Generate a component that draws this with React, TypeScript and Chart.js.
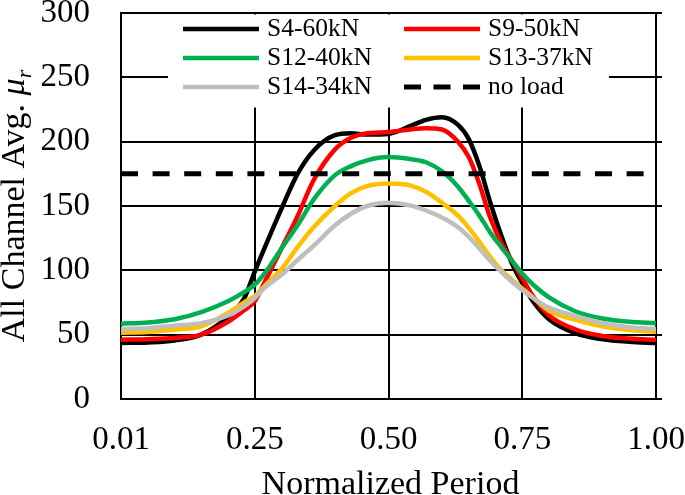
import React, { useEffect, useRef } from 'react';
import { Chart, registerables } from 'chart.js';

Chart.register(...registerables);

// Normalized period position along the axis (0 = first period 0.01, 1 = 1.00)
const periodPos = [0, 0.05, 0.10, 0.15, 0.20, 0.23, 0.25, 0.27, 0.30, 0.33, 0.36, 0.40, 0.43, 0.46, 0.50, 0.54, 0.57, 0.60, 0.63, 0.65, 0.67, 0.69, 0.71, 0.73, 0.75, 0.77, 0.80, 0.85, 0.90, 0.95, 1.00];

const s4_60kN = [43.5, 44, 45.5, 50, 64, 78, 99, 119, 148, 175, 193, 205, 206.5, 205.5, 206, 212, 217, 219, 213, 202, 181, 153, 128, 106, 90, 76, 62, 51, 46.5, 44.5, 43.5];
const s9_50kN = [46, 46.5, 47.5, 50, 60, 69, 76, 92, 117, 142, 170, 194, 203, 206.5, 207.5, 209.5, 210.5, 209.5, 200, 188, 167, 141, 122, 108, 94, 80, 65, 54, 49, 47, 46];
const s12_40kN = [58.5, 59.5, 62, 67.6, 76, 83, 89, 98.5, 117, 135, 155, 174, 181, 185.5, 188, 186.5, 184, 177, 165, 154, 142.5, 129.5, 118.5, 108, 97.5, 89, 79, 68, 62.5, 60, 59];
const s13_37kN = [51.5, 52, 54, 56.5, 67, 75, 80, 88.5, 101, 118, 133.5, 150, 160, 165.5, 167.5, 166, 161, 152.5, 142.5, 133, 122, 110.5, 100.5, 93, 86, 79, 68.5, 61.5, 56.5, 53.7, 52.3];
const s14_34kN = [54.4, 55, 57, 59, 65, 72, 78.5, 87, 96.5, 108, 119, 135, 144, 150, 152.5, 150.5, 146.5, 141, 133.5, 126, 117, 107.5, 99, 91.5, 84.5, 78.5, 71, 64.5, 59, 55.8, 54.4];
const noLoadLevel = 175;

const seriesNames = ['S4-60kN', 'S9-50kN', 'S12-40kN', 'S13-37kN', 'S14-34kN', 'no load'];
const seriesColors = ['#000000', '#ff0000', '#00b050', '#ffc000', '#bfbfbf', '#000000'];

const xTickPos = [0, 0.25, 0.5, 0.75, 1];
const xTickLabels = ['0.01', '0.25', '0.50', '0.75', '1.00'];
const yTicks = [0, 50, 100, 150, 200, 250, 300];

const FONT = '"Liberation Serif", "Times New Roman", serif';

const overlayPlugin = {
  id: 'overlay',
  afterDraw(chart: any) {
    const ctx: CanvasRenderingContext2D = chart.ctx;
    const { left, right, top, bottom } = chart.chartArea;
    const ys = chart.scales.y;
    ctx.save();

    // small stubs right of the plot
    ctx.strokeStyle = '#000';
    ctx.lineWidth = 2;
    yTicks.forEach((v) => {
      const py = Math.round(ys.getPixelForValue(v));
      ctx.beginPath();
      ctx.moveTo(right, py);
      ctx.lineTo(right + 6, py);
      ctx.stroke();
    });

    // legend box
    ctx.fillStyle = '#ffffff';
    ctx.fillRect(168, top + 1.5, 441, 93);
    const cols = [183, 404];
    const rowY = [29, 58, 87];
    ctx.font = `25.5px ${FONT}`;
    ctx.textBaseline = 'alphabetic';
    ctx.textAlign = 'left';
    seriesNames.forEach((name, i) => {
      const cx = cols[i % 2];
      const ry = rowY[Math.floor(i / 2)];
      ctx.strokeStyle = seriesColors[i];
      ctx.lineWidth = i === 5 ? 5 : 4.5;
      ctx.setLineDash(i === 5 ? [17, 12.5] : []);
      ctx.beginPath();
      ctx.moveTo(cx, ry);
      ctx.lineTo(cx + 76, ry);
      ctx.stroke();
      ctx.setLineDash([]);
      ctx.fillStyle = '#000';
      ctx.fillText(name, cx + 84, ry + 7);
    });

    // x title
    ctx.font = `34px ${FONT}`;
    ctx.textAlign = 'center';
    ctx.fillStyle = '#000';
    ctx.fillText('Normalized Period', (left + right) / 2 + 2, 494);

    // y title (rotated, with italic mu and subscript r)
    const part1 = 'All Channel Avg. ';
    const part2 = 'μ';
    const part3 = 'r';
    ctx.textAlign = 'left';
    ctx.font = `34px ${FONT}`;
    const w1 = ctx.measureText(part1).width;
    ctx.font = `italic 34px ${FONT}`;
    const w2 = ctx.measureText(part2).width;
    ctx.font = `italic 22px ${FONT}`;
    const w3 = ctx.measureText(part3).width;
    const total = w1 + w2 + w3;
    ctx.translate(24, (top + bottom) / 2);
    ctx.rotate(-Math.PI / 2);
    let xx = -total / 2;
    ctx.font = `34px ${FONT}`;
    ctx.fillText(part1, xx, 0);
    xx += w1;
    ctx.font = `italic 34px ${FONT}`;
    ctx.fillText(part2, xx, 0);
    xx += w2;
    ctx.font = `italic 22px ${FONT}`;
    ctx.fillText(part3, xx, 7);

    ctx.restore();
  },
};

export default function App() {
  const ref = useRef<HTMLCanvasElement | null>(null);

  useEffect(() => {
    document.body.style.margin = '0';
    const canvas = ref.current;
    if (!canvas) return;
    const seriesData = [s4_60kN, s9_50kN, s12_40kN, s13_37kN, s14_34kN];
    const datasets: any[] = seriesData.map((vals, i) => ({
      label: seriesNames[i],
      data: periodPos.map((x, j) => ({ x, y: vals[j] })),
      borderColor: seriesColors[i],
      borderWidth: 4.5,
      pointRadius: 0,
      fill: false,
      cubicInterpolationMode: 'monotone',
      order: 5 - i,
    }));
    datasets.push({
      label: seriesNames[5],
      data: [{ x: 0, y: noLoadLevel }, { x: 1, y: noLoadLevel }],
      borderColor: seriesColors[5],
      borderWidth: 5,
      borderDash: [17, 14.6],
      pointRadius: 0,
      fill: false,
      order: -1,
    });

    const chart = new Chart(canvas, {
      type: 'line',
      data: { datasets },
      options: {
        responsive: false,
        animation: false,
        devicePixelRatio: 1,
        layout: { padding: { top: 13, right: 29, left: 0, bottom: 0 } },
        plugins: { legend: { display: false }, tooltip: { enabled: false } },
        scales: {
          x: {
            type: 'linear',
            min: 0,
            max: 1,
            afterBuildTicks: (s: any) => {
              s.ticks = xTickPos.map((v) => ({ value: v }));
            },
            ticks: {
              callback: (_v: any, i: number) => xTickLabels[i],
              font: { family: FONT, size: 33 },
              color: '#000',
              padding: 22,
              maxRotation: 0,
              autoSkip: false,
            },
            grid: { color: '#000', lineWidth: 2, drawTicks: false },
            border: { color: '#000', width: 2 },
            afterFit: (s: any) => {
              s.height = 96;
              s.paddingLeft = 0;
              s.paddingRight = 0;
            },
          },
          y: {
            type: 'linear',
            min: 0,
            max: 300,
            afterBuildTicks: (s: any) => {
              s.ticks = yTicks.map((v) => ({ value: v }));
            },
            ticks: {
              font: { family: FONT, size: 33 },
              color: '#000',
              padding: 31,
            },
            grid: { color: '#000', lineWidth: 2, drawTicks: false },
            border: { color: '#000', width: 2 },
            afterFit: (s: any) => {
              s.width = 121;
              s.paddingTop = 0;
              s.paddingBottom = 0;
            },
          },
        },
      },
      plugins: [overlayPlugin],
    } as any);

    return () => chart.destroy();
  }, []);

  return (
    <div style={{ width: 685, height: 495 }}>
      <canvas ref={ref} width={685} height={495} style={{ display: 'block' }} />
    </div>
  );
}
